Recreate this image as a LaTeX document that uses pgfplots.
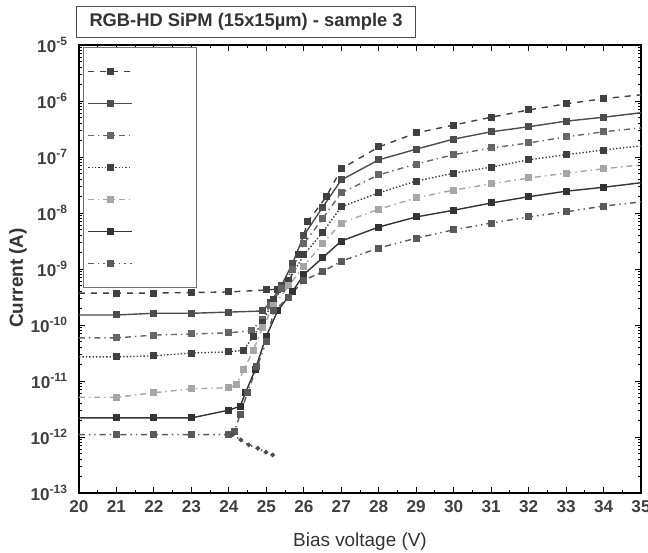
\documentclass[border=0pt]{standalone}
\usepackage{fontspec}
\setmainfont{Liberation Sans}
\setsansfont{Liberation Sans}
\usepackage{pgfplots}
\pgfplotsset{compat=1.18}
\usetikzlibrary{calc}

\pgfplotsset{
  cur/.style={line width=0.7bp, mark=square*, mark size=1.4bp, mark options={solid}},
}

\begin{document}
\begin{tikzpicture}
\begin{axis}[
  name=ax,
  scale only axis,
  width=281bp, height=224bp,
  xmin=20, xmax=35,
  ymode=log, ymin=1e-13, ymax=1e-5,
  xtick={20,...,35},
  minor x tick num=1,
  ytick={1e-13,1e-12,1e-11,1e-10,1e-9,1e-8,1e-7,1e-6,1e-5},
  yticklabels={10\textsuperscript{-13},10\textsuperscript{-12},10\textsuperscript{-11},10\textsuperscript{-10},10\textsuperscript{-9},10\textsuperscript{-8},10\textsuperscript{-7},10\textsuperscript{-6},10\textsuperscript{-5}},
  /pgf/number format/assume math mode=true,
  tick align=inside,
  major tick length=3bp, minor tick length=1.6bp,
  axis line style={line width=0.8bp},
  every tick/.style={line width=0.5bp, black},
  tick label style={font=\fontsize{8.6}{10}\selectfont\bfseries, text=black!75},
  yticklabel style={xshift=-2bp},
  xlabel={Bias voltage (V)},
  ylabel={Current (A)},
  label style={font=\fontsize{9.5}{11}\selectfont, text=black!80},
  xlabel style={at={(axis description cs:0.5,0)}, anchor=center, yshift=-24.5bp},
  ylabel style={at={(axis description cs:0,0.48)}, anchor=center, yshift=30.5bp, font=\fontsize{9.5}{11}\selectfont\bfseries},
  legend style={at={(0.007,0.996)}, anchor=north west, draw=black!55, line width=0.5bp,
    fill=white, inner xsep=2bp, inner ysep=4bp, row sep=0bp,
    nodes={minimum height=16bp, inner sep=0pt, text width=30bp}},
  legend cell align=left,
  legend image code/.code={\draw[mark indices={2}] plot coordinates {(0bp,0bp) (11bp,0bp) (22bp,0bp)};},
]
% series 1 (top)
\addplot[cur, black!75, dashed, mark indices={2,...,19}] coordinates {
  (20,3.72e-10) (21,3.72e-10) (22,3.72e-10) (23,3.80e-10) (24,3.89e-10)
  (25,4.22e-10) (25.3,4.37e-10) (25.6,5.62e-10) (25.85,1.78e-9) (26.1,6.92e-9)
  (26.6,1.95e-8) (27,6.17e-8) (28,1.51e-7) (29,2.69e-7) (30,3.72e-7)
  (31,5.13e-7) (32,6.92e-7) (33,8.91e-7) (34,1.10e-6) (35,1.29e-6)
};
% series 2
\addplot[cur, black!70, mark indices={2,...,19}] coordinates {
  (20,1.51e-10) (21,1.51e-10) (22,1.62e-10) (23,1.62e-10) (24,1.70e-10)
  (24.9,1.78e-10) (25.1,2.51e-10) (25.4,5.01e-10) (25.7,1.26e-9) (26,3.98e-9)
  (26.5,1.26e-8) (27,3.89e-8) (28,8.91e-8) (29,1.38e-7) (30,2.09e-7)
  (31,2.82e-7) (32,3.47e-7) (33,4.37e-7) (34,5.13e-7) (35,6.17e-7)
};
% series 3
\addplot[cur, black!60, dashdotted, mark indices={2,...,20}] coordinates {
  (20,5.89e-11) (21,5.89e-11) (22,6.61e-11) (23,6.92e-11) (24,7.24e-11)
  (24.6,7.94e-11) (24.9,1.26e-10) (25.1,2.24e-10) (25.4,4.47e-10) (25.7,1.0e-9)
  (26,2.82e-9) (26.5,7.94e-9) (27,2.29e-8) (28,4.79e-8) (29,7.50e-8)
  (30,1.10e-7) (31,1.45e-7) (32,1.78e-7) (33,2.29e-7) (34,2.82e-7) (35,3.31e-7)
};
% series 4
\addplot[cur, black!75, densely dotted, mark indices={2,...,20}] coordinates {
  (20,2.69e-11) (21,2.69e-11) (22,2.82e-11) (23,3.16e-11) (24,3.31e-11)
  (24.4,3.55e-11) (24.65,6.31e-11) (24.9,1.12e-10) (25.2,2.82e-10) (25.6,6.31e-10)
  (26,1.78e-9) (26.5,4.47e-9) (27,1.29e-8) (28,2.29e-8) (29,3.72e-8)
  (30,5.13e-8) (31,6.61e-8) (32,8.91e-8) (33,1.10e-7) (34,1.33e-7) (35,1.58e-7)
};
% series 5
\addplot[cur, black!35, dash dot, mark indices={2,...,21}] coordinates {
  (20,5.13e-12) (21,5.13e-12) (22,6.17e-12) (23,7.24e-12) (24,7.59e-12)
  (24.2,8.51e-12) (24.4,1.58e-11) (24.65,3.55e-11) (24.9,8.91e-11) (25.2,2.24e-10)
  (25.6,5.01e-10) (26,1.12e-9) (26.5,2.82e-9) (27,6.61e-9) (28,1.17e-8)
  (29,1.86e-8) (30,2.57e-8) (31,3.31e-8) (32,4.22e-8) (33,5.13e-8) (34,6.17e-8) (35,7.24e-8)
};
% series 6
\addplot[cur, black!80, mark indices={2,...,21}] coordinates {
  (20,2.19e-12) (21,2.19e-12) (22,2.19e-12) (23,2.19e-12) (24,3.02e-12)
  (24.3,3.55e-12) (24.45,6.31e-12) (24.7,1.58e-11) (25,6.31e-11) (25.3,1.78e-10)
  (25.7,3.98e-10) (26,7.94e-10) (26.5,1.58e-9) (27,3.16e-9) (28,5.62e-9)
  (29,8.51e-9) (30,1.12e-8) (31,1.51e-8) (32,1.95e-8) (33,2.45e-8) (34,2.88e-8) (35,3.47e-8)
};
% series 7 (bottom)
\addplot[cur, black!65, dash dot dot, mark indices={2,...,22}] coordinates {
  (20,1.10e-12) (21,1.10e-12) (22,1.10e-12) (23,1.10e-12) (24,1.10e-12)
  (24.15,1.26e-12) (24.3,2.51e-12) (24.5,6.31e-12) (24.75,1.78e-11) (25,5.01e-11)
  (25.2,1.78e-10) (25.6,3.16e-10) (26,6.31e-10) (26.5,8.91e-10) (27,1.38e-9)
  (28,2.37e-9) (29,3.55e-9) (30,5.01e-9) (31,6.61e-9) (32,8.51e-9)
  (33,1.05e-8) (34,1.33e-8) (35,1.58e-8)
};
% falling tail
\addplot[forget plot, black!70, line width=0.7bp, dotted, mark=*, mark size=0.8bp, mark options={solid}] coordinates {
  (24.1,1.10e-12) (24.32,8.91e-13) (24.53,7.24e-13) (24.77,6.31e-13) (24.99,5.37e-13) (25.17,4.79e-13)
};
\legend{\strut,\strut,\strut,\strut,\strut,\strut,\strut}
\coordinate (sw) at (rel axis cs:0,0);
\coordinate (ne) at (rel axis cs:1,1);
\coordinate (nw) at (rel axis cs:0,1);
\end{axis}
\node[anchor=south west, draw=black!70, line width=0.5bp, inner xsep=6.5bp, inner ysep=0pt,
  minimum height=15.5bp, font=\fontsize{9.2}{11}\selectfont\bfseries, text=black!80]
  at ($(nw)+(-1.5bp,3.5bp)$) {RGB-HD SiPM (15x15µm) - sample 3};
\pgfresetboundingbox
\path[use as bounding box] ($(sw)+(-39.5bp,-30bp)$) rectangle ($(ne)+(3.5bp,22.5bp)$);
\end{tikzpicture}
\end{document}
